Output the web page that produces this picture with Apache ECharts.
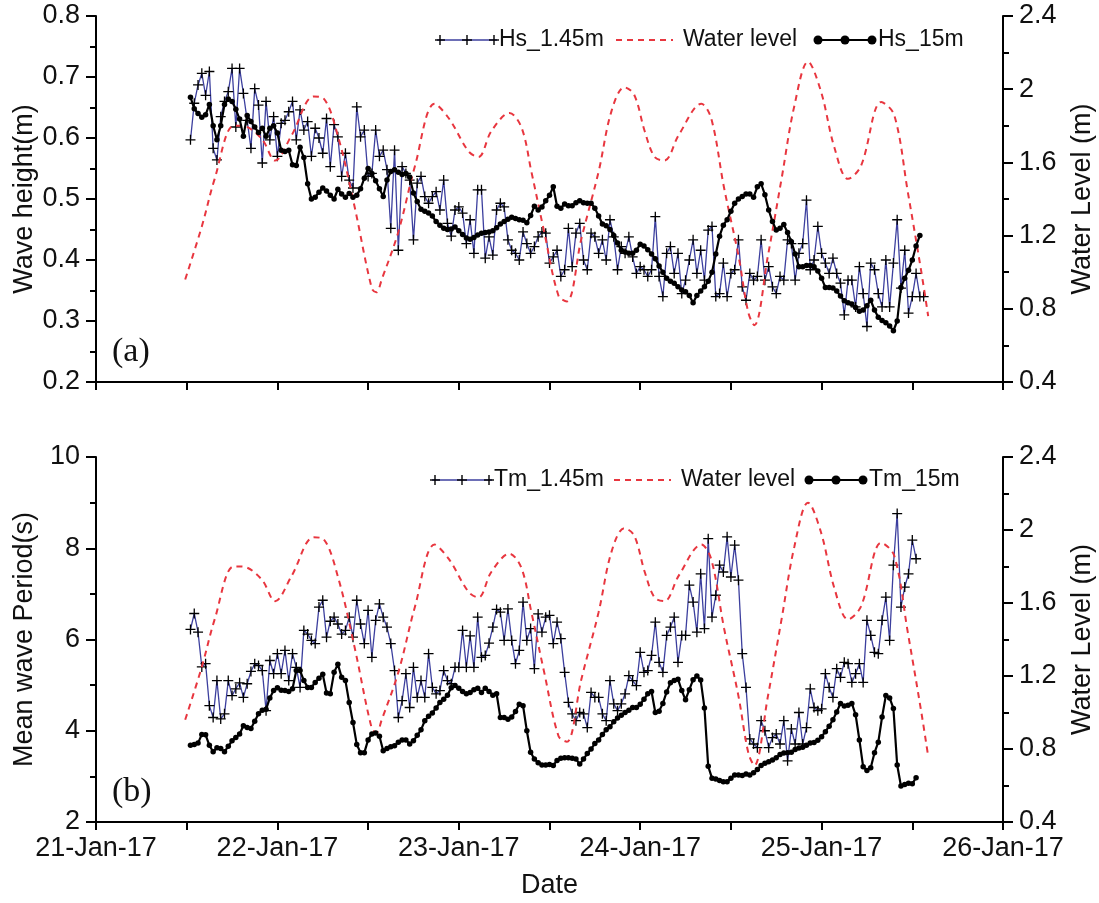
<!DOCTYPE html>
<html>
<head>
<meta charset="utf-8">
<script src="https://cdn.jsdelivr.net/npm/echarts@6/dist/echarts.min.js"></script>
<style>
html,body{margin:0;padding:0;background:#fff;}
#chart{width:1099px;height:903px;}
</style>
</head>
<body>
<div id="chart"></div>
<script>
// Half-hourly wave records starting 21-Jan-2017 12:30
const START = Date.UTC(2017, 0, 21, 12, 30);
const STEP = 30 * 60 * 1000;
const DAY0 = Date.UTC(2017, 0, 21);
const HOUR = 3600 * 1000;

// Significant wave height (m) at 1.45 m depth
const hs145 = [
0.597,0.657,0.687,0.706,0.67,0.709,0.583,0.564,0.635,0.66,
0.676,0.714,0.618,0.714,0.673,0.629,0.583,0.681,0.654,0.559,
0.66,0.597,0.635,0.57,0.624,0.629,0.643,0.66,0.597,0.646,
0.613,0.627,0.57,0.616,0.60,0.575,0.632,0.553,0.622,0.602,
0.537,0.575,0.531,0.518,0.651,0.602,0.613,0.537,0.542,0.613,
0.57,0.58,0.548,0.452,0.58,0.416,0.553,0.542,0.531,0.433,
0.526,0.537,0.504,0.493,0.504,0.512,0.482,0.531,0.46,0.439,
0.482,0.487,0.477,0.427,0.466,0.411,0.515,
0.515,0.403,0.438,0.408,0.482,0.493,0.487,0.433,0.416,0.411,
0.40,0.446,0.427,0.411,0.422,0.438,0.446,0.444,0.395,0.405,
0.416,0.373,0.384,0.452,0.389,0.444,0.46,0.40,0.384,0.444,
0.438,0.411,0.433,0.40,0.466,0.438,0.384,0.422,0.411,0.438,
0.405,0.378,0.389,0.384,0.373,0.384,0.471,0.373,0.34,0.411,
0.422,0.378,0.411,0.345,0.367,0.40,0.433,0.378,0.416,0.367,
0.449,0.455,0.34,0.345,0.395,0.34,0.378,0.384,0.433,0.356,
0.334,0.378,0.367,0.373,0.433,0.367,0.389,
0.356,0.345,0.373,0.367,0.433,0.427,0.367,0.411,0.427,0.498,
0.384,0.40,0.455,0.411,0.395,0.378,0.403,0.378,0.362,0.31,
0.367,0.367,0.323,0.389,0.345,0.291,0.395,0.384,0.345,0.323,
0.40,0.323,0.395,0.466,0.354,0.416,0.313,0.34,0.378,0.34,
0.34
];

// Significant wave height (m) at 15 m depth
const hs15 = [
0.667,0.648,0.640,0.634,0.638,0.655,0.62,0.597,0.62,0.655,
0.664,0.66,0.647,0.631,0.603,0.637,0.627,0.618,0.609,0.616,
0.603,0.616,0.62,0.608,0.58,0.578,0.58,0.556,0.555,0.585,
0.568,0.525,0.50,0.503,0.511,0.518,0.513,0.506,0.50,0.516,
0.508,0.503,0.509,0.503,0.506,0.517,0.534,0.55,0.542,0.53,
0.517,0.504,0.531,0.545,0.548,0.544,0.54,0.542,0.536,0.51,
0.496,0.483,0.48,0.477,0.472,0.463,0.457,0.452,0.45,0.451,
0.454,0.448,0.442,0.436,0.434,0.437,0.441,0.444,0.445,0.446,
0.448,0.453,0.459,0.463,0.467,0.47,0.468,0.466,0.465,0.461,
0.473,0.488,0.482,0.487,0.497,0.506,0.52,0.488,0.485,0.492,
0.489,0.489,0.494,0.497,0.494,0.493,0.493,0.485,0.472,0.459,
0.456,0.45,0.44,0.428,0.416,0.413,0.411,0.411,0.416,0.426,
0.423,0.417,0.41,0.402,0.39,0.38,0.37,0.365,0.362,0.356,
0.351,0.348,0.342,0.33,0.342,0.349,0.356,0.365,0.38,0.41,
0.439,0.457,0.466,0.48,0.493,0.5,0.504,0.508,0.508,0.503,
0.52,0.525,0.507,0.482,0.463,0.449,0.452,0.458,0.445,0.43,
0.41,0.389,0.389,0.391,0.391,0.389,0.382,0.37,0.355,0.355,
0.354,0.349,0.341,0.333,0.33,0.328,0.322,0.316,0.318,0.325,
0.334,0.318,0.306,0.301,0.297,0.292,0.284,0.30,0.355,0.37,
0.383,0.40,0.423,0.44
];

// Mean wave period (s) at 1.45 m depth
const tm145 = [
6.22,6.57,6.16,5.40,5.47,4.55,4.29,5.10,4.26,4.37,
5.10,4.77,4.92,5.05,4.73,5.03,5.30,5.47,5.43,5.32,
4.44,5.54,5.25,5.69,5.25,5.76,5.10,5.69,5.39,4.95,
6.20,6.12,5.98,5.91,6.71,6.86,6.05,6.40,6.49,6.34,
6.12,6.20,6.49,6.05,6.86,6.34,5.91,6.64,5.61,6.42,
6.78,6.49,6.27,5.91,5.32,4.29,4.66,5.25,4.51,5.39,
4.73,5.10,4.73,5.69,4.95,4.81,4.88,5.32,5.10,5.03,
5.39,5.39,6.20,5.39,6.08,5.39,6.49,
5.61,5.65,5.92,6.27,6.66,6.60,5.98,6.67,5.98,5.47,
5.76,6.82,5.98,6.24,5.36,6.56,6.16,6.49,6.53,5.91,
6.38,6.02,5.28,4.62,4.37,4.22,4.40,4.37,4.07,4.84,
4.73,4.73,4.37,4.22,5.10,4.59,4.44,4.59,4.81,5.21,
5.10,4.99,5.72,5.28,5.32,5.65,6.38,5.50,5.28,6.09,
6.27,6.49,5.50,6.09,6.09,7.19,6.82,6.16,7.44,6.24,
8.21,6.49,6.97,7.63,7.48,8.25,7.37,8.07,7.30,5.69,
4.95,3.82,3.71,3.63,4.22,4.00,
3.63,3.85,3.93,3.71,4.22,3.34,4.04,3.71,4.40,3.71,
4.07,4.92,4.51,4.44,4.48,5.25,4.95,4.73,5.36,5.17,
5.50,5.47,5.06,5.25,5.47,5.06,6.42,6.09,5.72,5.69,
6.42,6.93,5.98,7.63,8.76,6.71,7.15,7.44,8.18,7.77
];

// Mean wave period (s) at 15 m depth
const tm15 = [
3.68,3.70,3.73,3.92,3.91,3.68,3.54,3.63,3.61,3.54,
3.66,3.78,3.85,3.93,4.11,4.07,4.05,4.21,4.37,4.45,
4.47,4.72,4.88,4.94,4.89,4.88,4.86,4.92,5.32,5.32,
5.10,4.95,4.95,5.06,5.15,5.24,4.83,4.81,5.28,5.46,
5.17,5.10,4.62,4.18,3.70,3.52,3.52,3.80,3.93,3.95,
3.88,3.56,3.61,3.65,3.67,3.75,3.80,3.80,3.71,3.78,
3.90,4.02,4.22,4.32,4.39,4.50,4.62,4.69,4.78,4.94,
4.99,4.93,4.86,4.81,4.84,4.90,4.93,4.84,4.93,4.86,
4.78,4.81,4.29,4.29,4.25,4.30,4.42,4.58,4.55,4.00,
3.53,3.38,3.30,3.25,3.25,3.26,3.24,3.35,3.40,3.41,
3.41,3.40,3.38,3.27,3.38,3.50,3.60,3.72,3.80,3.92,
4.02,4.09,4.20,4.28,4.34,4.40,4.45,4.51,4.51,4.58,
4.69,4.81,4.86,4.40,4.43,4.60,4.85,5.05,5.10,5.13,
4.88,4.68,4.90,5.12,5.20,5.11,4.50,3.22,2.96,2.94,
2.91,2.88,2.88,2.96,3.03,3.03,3.02,3.05,3.03,3.08,
3.15,3.24,3.29,3.32,3.36,3.41,3.48,3.51,3.52,3.53,
3.59,3.62,3.64,3.68,3.73,3.74,3.79,3.87,3.98,4.10,
4.24,4.41,4.60,4.54,4.56,4.60,4.35,3.80,3.21,3.13,
3.19,3.52,3.75,4.30,4.77,4.72,4.49,3.25,2.79,2.82,
2.85,2.84,2.97
];

// Water level (m): hours after 21-Jan-2017 00:00 and level
const tideHours = [
11.8,14.0,15.7,18.2,19.3,21.9,23.7,25.9,28.8,30.1,
32.1,34.2,36.5,37.1,37.8,40.0,42.2,44.8,46.7,49.3,
50.6,52.3,54.7,56.3,57.6,59.3,61.2,62.3,64.2,66.5,
68.2,69.9,71.2,72.6,73.9,75.2,77.1,80.1,81.4,83.1,
85.0,86.3,87.1,88.9,90.7,92.4,94.2,95.9,97.7,99.5,
101.2,103.9,105.6,107.4,109.2,110.1
];
const tideLevel = [
0.96,1.25,1.51,1.80,1.80,1.73,1.61,1.75,1.96,1.95,
1.73,1.36,0.91,0.89,0.96,1.22,1.58,1.92,1.84,1.66,
1.63,1.77,1.87,1.79,1.55,1.22,0.87,0.84,1.18,1.55,
1.88,2.01,1.97,1.77,1.63,1.61,1.75,1.92,1.84,1.46,
1.09,0.78,0.71,1.09,1.51,1.91,2.15,1.99,1.68,1.51,
1.58,1.93,1.86,1.44,1.00,0.76
];

const MONTHS = ['Jan','Feb','Mar','Apr','May','Jun','Jul','Aug','Sep','Oct','Nov','Dec'];
const FONT = '"Liberation Sans", Arial, sans-serif';
const SERIF = '"Liberation Serif", "Times New Roman", serif';
const CROSS = 'path://M0,5L10,5M5,0L5,10';
const BLUE = '#3c3f9e';
const RED = '#e8363f';

const series30 = arr => arr.map((v, i) => [START + i * STEP, v]);
const tide = tideHours.map((h, i) => [DAY0 + h * HOUR, tideLevel[i]]);

function dayLabel(v) {
  const d = new Date(v);
  if (d.getUTCHours() !== 0) return '';
  return String(d.getUTCDate()).padStart(2, '0') + '-' + MONTHS[d.getUTCMonth()] + '-' + String(d.getUTCFullYear()).slice(2);
}

const axisLine = { show: true, onZero: false, lineStyle: { color: '#000', width: 2 } };
const labelStyle = { color: '#111', fontFamily: FONT, fontSize: 27 };
const nameStyle = { color: '#111', fontFamily: FONT, fontSize: 27 };

function xAxis(gridIndex, showLabels) {
  return {
    type: 'value', gridIndex,
    min: DAY0, max: DAY0 + 5 * 24 * HOUR, interval: 12 * HOUR,
    axisLine,
    axisTick: { show: true, length: 8, lineStyle: { color: '#000', width: 2 } },
    axisLabel: Object.assign({ show: showLabels, formatter: dayLabel, margin: 13 }, labelStyle),
    splitLine: { show: false },
    name: showLabels ? 'Date' : '',
    nameLocation: 'middle', nameGap: 50, nameTextStyle: nameStyle
  };
}

function yAxis(gridIndex, position, min, max, interval, name, gap) {
  return {
    type: 'value', gridIndex, position, min, max, interval,
    axisLine,
    axisTick: { show: true, length: 10, lineStyle: { color: '#000', width: 2 } },
    minorTick: { show: true, splitNumber: 2, length: 6, lineStyle: { color: '#000', width: 2 } },
    axisLabel: Object.assign({ margin: 16 }, labelStyle),
    splitLine: { show: false }, minorSplitLine: { show: false },
    name, nameLocation: 'middle', nameRotate: 90, nameGap: gap, nameMoveOverlap: false,
    nameTextStyle: nameStyle
  };
}

function nearSeries(name, data, xi, yi) {
  return {
    type: 'line', name, data, xAxisIndex: xi, yAxisIndex: yi,
    symbol: CROSS, symbolSize: 10, showSymbol: true,
    lineStyle: { color: BLUE, width: 1.3 },
    itemStyle: { color: '#000', borderColor: '#000', borderWidth: 1.3 },
    z: 2, emphasis: { disabled: true }
  };
}
function tideSeries(xi, yi) {
  return {
    type: 'line', name: 'Water level', data: tide, xAxisIndex: xi, yAxisIndex: yi,
    smooth: 0.35, symbol: 'none',
    lineStyle: { color: RED, width: 2, type: [6, 5] },
    z: 3, emphasis: { disabled: true }
  };
}
function farSeries(name, data, xi, yi) {
  return {
    type: 'line', name, data, xAxisIndex: xi, yAxisIndex: yi,
    symbol: 'circle', symbolSize: 5.5, showSymbol: true,
    lineStyle: { color: '#000', width: 2.2 },
    itemStyle: { color: '#000' },
    z: 4, emphasis: { disabled: true }
  };
}

// Legend row drawn as graphic glyphs: crossed line, dashed line, dotted line
function legendRow(y, pos, labels) {
  const els = [];
  const txt = (x, t) => ({ type: 'text', style: { x, y, text: t, font: '23px ' + FONT, fill: '#111', align: 'left', verticalAlign: 'middle' } });
  els.push({ type: 'line', shape: { x1: pos.a[0], y1: y, x2: pos.a[1], y2: y }, style: { stroke: BLUE, lineWidth: 1.5 } });
  [pos.a[0] + 3, (pos.a[0] + pos.a[1]) / 2, pos.a[1] - 3].forEach(cx => {
    els.push({ type: 'line', shape: { x1: cx - 5, y1: y, x2: cx + 5, y2: y }, style: { stroke: '#000', lineWidth: 1.4 } });
    els.push({ type: 'line', shape: { x1: cx, y1: y - 5, x2: cx, y2: y + 5 }, style: { stroke: '#000', lineWidth: 1.4 } });
  });
  els.push(txt(pos.ta, labels[0]));
  els.push({ type: 'line', shape: { x1: pos.b[0], y1: y, x2: pos.b[1], y2: y }, style: { stroke: RED, lineWidth: 2, lineDash: [6, 5] } });
  els.push(txt(pos.tb, labels[1]));
  els.push({ type: 'line', shape: { x1: pos.c[0], y1: y, x2: pos.c[1], y2: y }, style: { stroke: '#000', lineWidth: 2 } });
  [pos.c[0] + 3, (pos.c[0] + pos.c[1]) / 2, pos.c[1] - 3].forEach(cx => {
    els.push({ type: 'circle', shape: { cx, cy: y, r: 4.5 }, style: { fill: '#000' } });
  });
  els.push(txt(pos.tc, labels[2]));
  return els;
}

const chart = echarts.init(document.getElementById('chart'), null, { renderer: 'canvas' });
chart.setOption({
  animation: false,
  backgroundColor: '#fff',
  grid: [
    { left: 96, right: 96, top: 16, height: 366, outerBoundsMode: 'none' },
    { left: 96, right: 96, top: 457, height: 365, outerBoundsMode: 'none' }
  ],
  xAxis: [xAxis(0, false), xAxis(1, true)],
  yAxis: [
    yAxis(0, 'left', 0.2, 0.8, 0.1, 'Wave height(m)', 58),
    yAxis(0, 'right', 0.4, 2.4, 0.4, 'Water Level (m)', 66),
    yAxis(1, 'left', 2, 10, 2, 'Mean wave Period(s)', 58),
    yAxis(1, 'right', 0.4, 2.4, 0.4, 'Water Level (m)', 66)
  ],
  series: [
    nearSeries('Hs_1.45m', series30(hs145), 0, 0),
    tideSeries(0, 1),
    farSeries('Hs_15m', series30(hs15), 0, 0),
    nearSeries('Tm_1.45m', series30(tm145), 1, 2),
    tideSeries(1, 3),
    farSeries('Tm_15m', series30(tm15), 1, 2)
  ],
  graphic: [].concat(
    legendRow(40, { a: [437, 497], ta: 499, b: [616, 673], tb: 683, c: [815, 875], tc: 878 }, ['Hs_1.45m', 'Water level', 'Hs_15m']),
    legendRow(480, { a: [432, 492], ta: 494, b: [614, 671], tb: 681, c: [806, 866], tc: 869 }, ['Tm_1.45m', 'Water level', 'Tm_15m']),
    [
      { type: 'text', style: { x: 112, y: 352, text: '(a)', font: '34px ' + SERIF, fill: '#111', verticalAlign: 'middle' } },
      { type: 'text', style: { x: 112, y: 792, text: '(b)', font: '34px ' + SERIF, fill: '#111', verticalAlign: 'middle' } }
    ]
  )
});
</script>
</body>
</html>
